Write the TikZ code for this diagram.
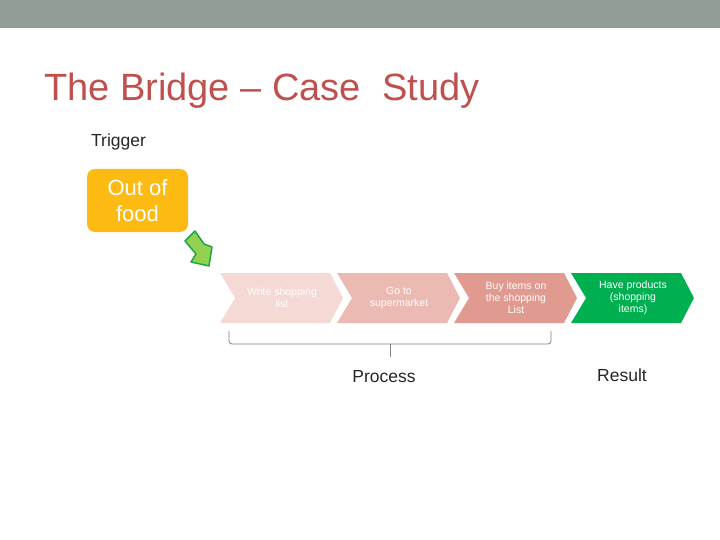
\documentclass[tikz,border=0pt]{standalone}
\usepackage{fontspec}
\setmainfont{Liberation Sans}
\definecolor{barcol}{HTML}{929E95}
\definecolor{titlecol}{HTML}{C0504D}
\definecolor{foodcol}{HTML}{FCBA12}
\definecolor{stepa}{HTML}{F4D9D4}
\definecolor{stepb}{HTML}{EBBAB2}
\definecolor{stepc}{HTML}{E19A8F}
\definecolor{stepd}{HTML}{00B050}
\definecolor{arrowfill}{HTML}{92D050}
\definecolor{arrowline}{HTML}{1FA447}
\newcommand{\chevstep}[4]{%
 \fill[#3] (#2,273) -- ++(110,0) -- ++(13,25) -- ++(-13,25) -- ++(-110,0) -- ++(15,-25) -- cycle;%
 \node[steptext] (#1) at (#2+62,298) {#4};%
}
\tikzset{steptext/.style={text=white, align=center, inner sep=0pt, font=\fontsize{10.5}{12}\selectfont},
 label/.style={text=black!85, inner sep=0pt, font=\fontsize{17.5}{20}\selectfont}}

\begin{document}
\begin{tikzpicture}[x=1pt,y=-1pt]
   \useasboundingbox (0,0) rectangle (720,540);
   \fill[barcol] (0,0) rectangle (720,28);
   \node[anchor=base west, inner sep=0pt, text=titlecol, font=\fontsize{38}{40}\selectfont] (title) at (44,101) {The Bridge -- Case\ \ Study};
   \node[label, anchor=base west] (trigger) at (91,147) {Trigger};
   \node[fill=foodcol, rounded corners=8pt, minimum width=101pt, minimum height=63pt, text=white, align=center, inner sep=0pt,
     font=\fontsize{22}{26}\selectfont] (food) at (137.5,200.5) {Out of\\food};
   \draw[arrowline, fill=arrowfill, line width=1.5pt, line join=round] (185,241) -- (195,231) -- (204,244) -- (212,247) -- (209,266) -- (191,262) -- (196,254) -- cycle;
   \chevstep{write}{220}{stepa}{Write shopping\\list};
   \chevstep{goto}{337}{stepb}{Go to\\supermarket};
   \chevstep{buy}{454}{stepc}{Buy items on\\the shopping\\List};
   \chevstep{have}{571}{stepd}{Have products\\(shopping\\items)};
   \coordinate (bl) at (229,331);
   \coordinate (br) at (551,331);
   \coordinate (bm) at (390,357);
   \draw[black!50, line width=0.8pt, rounded corners=3pt] (bl) -- (bl |- 0,344) -- (br |- 0,344) -- (br);
   \draw[black!50, line width=0.8pt] (bm |- 0,344) -- (bm);
   \node[label] (process) at (384,377) {Process};
   \node[label] (result) at (622,375) {Result};
  \end{tikzpicture}
\end{document}
